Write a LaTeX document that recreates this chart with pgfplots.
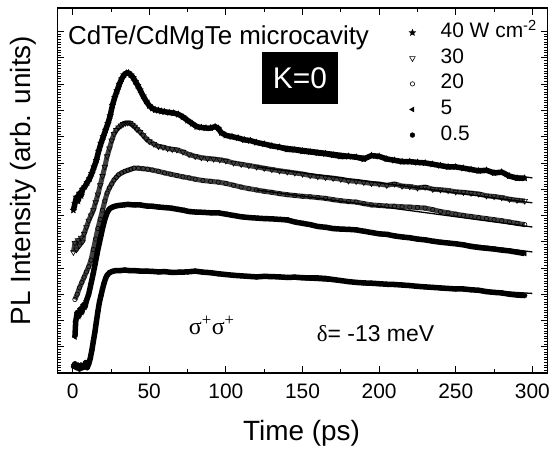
\documentclass[border=0pt]{standalone}
\usepackage{pgfplots}
\pgfplotsset{compat=1.18}
\usepackage{pgfplotstable}
\usepackage{fontspec}
\setmainfont{Liberation Sans}
\newfontfamily\symf{Liberation Serif}

\pgfdeclareplotmark{fstar}{%
 \pgfpathmoveto{\pgfpointpolar{90}{\pgfplotmarksize}}%
 \pgfpathlineto{\pgfpointpolar{126}{0.45\pgfplotmarksize}}%
 \pgfpathlineto{\pgfpointpolar{162}{\pgfplotmarksize}}%
 \pgfpathlineto{\pgfpointpolar{198}{0.45\pgfplotmarksize}}%
 \pgfpathlineto{\pgfpointpolar{234}{\pgfplotmarksize}}%
 \pgfpathlineto{\pgfpointpolar{270}{0.45\pgfplotmarksize}}%
 \pgfpathlineto{\pgfpointpolar{306}{\pgfplotmarksize}}%
 \pgfpathlineto{\pgfpointpolar{342}{0.45\pgfplotmarksize}}%
 \pgfpathlineto{\pgfpointpolar{18}{\pgfplotmarksize}}%
 \pgfpathlineto{\pgfpointpolar{54}{0.45\pgfplotmarksize}}%
 \pgfpathclose
 \pgfusepathqfillstroke}

% 40 W cm^-2
\pgfplotstableread{
x y
0.5 6.2
1.5 6.45
2.5 6.7
3.5 6.55
4.5 6.85
5.5 6.75
6.5 7.0
8 7.1
9.5 7.25
11 7.4
12.5 7.6
14 7.85
15.5 8.1
17 8.45
18.5 8.75
20 9.0
21.5 9.25
23 9.5
24.5 9.8
26 10.2
27.5 10.5
29 10.75
30.5 11.0
32 11.2
33.5 11.35
35 11.42
36.5 11.43
38 11.35
39.5 11.25
41 11.1
42.5 10.95
44 10.78
46 10.55
48 10.35
50 10.18
52 10.08
54 10.02
56 10.0
58 9.97
60 9.95
63 9.92
66 9.9
69 9.85
72 9.75
75 9.62
78 9.5
81 9.38
84 9.35
87 9.33
90 9.33
93 9.38
95 9.32
97 9.15
100 9.05
104 9.0
108 8.95
112 8.88
116 8.85
120 8.78
125 8.72
130 8.65
135 8.6
140 8.52
145 8.5
150 8.45
155 8.42
160 8.38
165 8.35
170 8.3
175 8.25
180 8.25
185 8.22
190 8.15
195 8.28
200 8.25
205 8.15
210 8.1
215 8.05
220 8.05
225 8.02
230 8.0
235 7.95
240 7.9
245 7.85
250 7.85
255 7.8
260 7.75
265 7.7
270 7.72
275 7.62
280 7.65
285 7.5
290 7.42
295 7.42
}\dataA

% 30
\pgfplotstableread{
x y
0.5 4.6
1.5 4.95
2.5 4.7
3.5 5.05
4.5 4.85
5.5 5.15
6.5 5.0
7.5 5.3
9 5.55
10.5 5.8
12 6.0
13.5 6.2
15 6.5
16.5 6.8
18 7.15
19.5 7.5
21 7.85
22.5 8.25
24 8.55
25.5 8.85
27 9.1
28.5 9.25
30 9.35
31.5 9.42
33 9.48
34.5 9.52
36 9.53
37.5 9.52
39 9.45
40.5 9.38
42 9.28
44 9.18
46 9.05
48 8.92
50 8.82
53 8.72
56 8.63
59 8.6
62 8.55
65 8.52
68 8.5
72 8.42
76 8.32
80 8.25
84 8.2
88 8.17
92 8.15
96 8.12
100 8.08
105 8.0
110 7.95
115 7.9
120 7.85
125 7.8
130 7.75
135 7.7
140 7.66
145 7.62
150 7.58
155 7.52
160 7.48
165 7.45
170 7.42
175 7.38
180 7.32
185 7.3
190 7.26
195 7.22
200 7.2
205 7.15
210 7.2
215 7.12
220 7.1
225 7.05
230 7.08
235 7.0
240 6.98
245 6.95
250 6.9
255 6.88
260 6.85
265 6.82
270 6.75
275 6.72
280 6.68
285 6.62
290 6.58
295 6.55
}\dataB

% 20
\pgfplotstableread{
x y
1.5 2.8
3 3.0
4.5 3.25
6 3.45
7.5 3.65
9 3.85
10.5 4.05
12 4.3
13.5 4.7
15 5.1
16.5 5.5
18 5.85
19.5 6.2
21 6.55
22.5 6.85
24 7.05
25.5 7.2
27 7.35
28.5 7.45
30 7.55
32 7.62
34 7.68
36 7.72
38 7.76
40 7.8
43 7.8
46 7.78
49 7.76
52 7.73
56 7.68
60 7.62
64 7.57
68 7.52
72 7.47
76 7.43
80 7.38
85 7.33
90 7.3
95 7.27
100 7.22
105 7.15
110 7.08
115 7.02
120 6.97
125 6.92
130 6.88
135 6.83
140 6.79
145 6.76
150 6.73
155 6.71
160 6.68
165 6.65
170 6.6
175 6.56
180 6.53
185 6.51
190 6.45
195 6.4
200 6.38
205 6.36
210 6.35
215 6.33
220 6.32
225 6.3
230 6.28
235 6.22
240 6.15
245 6.1
250 6.05
255 6.0
260 5.96
265 5.92
270 5.88
275 5.84
280 5.8
285 5.75
290 5.7
295 5.65
}\dataC

% 5
\pgfplotstableread{
x y
1.5 1.37
2 1.95
3 2.3
4 2.15
5 2.45
6 2.3
7 2.6
8 2.5
9 2.75
10.5 3.0
12 3.4
13.5 3.8
15 4.25
16.5 4.7
18 5.1
19.5 5.5
21 5.85
22.5 6.1
24 6.25
26 6.32
28 6.36
30 6.38
33 6.4
36 6.42
40 6.4
44 6.4
48 6.36
52 6.35
56 6.32
60 6.3
64 6.28
68 6.24
72 6.2
76 6.15
80 6.13
85 6.12
90 6.1
95 6.1
100 6.05
105 6.0
110 5.95
115 5.92
120 5.9
125 5.88
130 5.87
135 5.85
140 5.83
145 5.75
150 5.7
155 5.65
160 5.58
165 5.55
170 5.5
175 5.48
180 5.47
185 5.45
190 5.4
195 5.35
200 5.3
205 5.28
210 5.22
215 5.18
220 5.15
225 5.1
230 5.07
235 5.02
240 4.98
245 4.95
250 4.92
255 4.88
260 4.82
265 4.78
270 4.75
275 4.72
280 4.68
285 4.65
290 4.6
295 4.55
}\dataD

% 0.5
\pgfplotstableread{
x y
0.5 0.25
1.5 0.35
2.5 0.2
3.5 0.3
4.5 0.15
5.5 0.3
6.5 0.2
7.5 0.25
8.5 0.4
9.5 0.2
10.5 0.35
11.5 0.55
12.5 0.85
13.5 1.2
14.5 1.55
15.5 1.95
16.5 2.35
17.5 2.7
18.5 2.95
19.5 3.2
20.5 3.42
21.5 3.6
22.5 3.72
24 3.82
26 3.87
28 3.9
31 3.9
34 3.92
37 3.9
40 3.9
44 3.88
48 3.88
52 3.87
56 3.85
60 3.86
65 3.83
70 3.84
75 3.85
80 3.88
85 3.84
90 3.82
95 3.78
100 3.75
105 3.72
110 3.7
115 3.68
120 3.66
125 3.68
130 3.67
135 3.66
140 3.64
145 3.65
150 3.63
155 3.62
160 3.62
165 3.6
170 3.56
175 3.52
180 3.48
185 3.45
190 3.43
195 3.42
200 3.4
205 3.38
210 3.37
215 3.35
220 3.33
225 3.3
230 3.28
235 3.26
240 3.24
245 3.22
250 3.2
255 3.2
260 3.17
265 3.15
270 3.1
275 3.07
280 3.05
285 3.0
290 2.97
295 2.95
}\dataE

\begin{document}
\begin{tikzpicture}
\begin{axis}[
  scale only axis,
  width=490.4bp, height=365bp,
  xmin=-10, xmax=310, ymin=0, ymax=13.9,
  xtick={0,50,...,300},
  minor x tick num=1,
  ytick={0,1,...,13},
  minor y tick num=9,
  yticklabels={},
  xtick pos=both, ytick pos=both,
  tick align=inside,
  major tick length=7bp, minor tick length=4bp,
  tick style={black, line width=0.8bp},
  axis line style={line width=1.1bp},
  /pgf/number format/assume math mode=true,
  ticklabel style={font=\fontsize{21}{24}\selectfont},
  xticklabel style={anchor=base, yshift=-25bp},
  xlabel={Time (ps)},
  ylabel={PL Intensity (arb. units)},
  label style={font=\fontsize{28}{32}\selectfont},
  xlabel style={at={(axis description cs:0.498,-0.1836)}, anchor=base},
  ylabel style={at={(axis description cs:-0.069,0.527)}, anchor=center},
  legend style={at={(axis cs:219.5,13.31)}, anchor=north west, draw=none, fill=none,
    font=\fontsize{21}{24}\selectfont, row sep=7.6bp, inner sep=0pt,
    nodes={inner sep=0pt, text height=14bp, text depth=4bp},
    /tikz/every odd column/.append style={column sep=25bp}},
  legend cell align=left,
  legend image code/.code={\draw[#1] plot coordinates {(0.1cm,0cm)};},
]
% thick data bands
\addplot[black, line width=5.5bp, line join=round, forget plot] table {\dataA};
\addplot[black!75, line width=5bp, line join=round, forget plot] table {\dataB};
\addplot[black!75, line width=5bp, line join=round, forget plot] table {\dataC};
\addplot[black, line width=5.5bp, line join=round, forget plot] table {\dataD};
\addplot[black, line width=5.5bp, line join=round, forget plot] table {\dataE};
% fits
\addplot[black, line width=1.3bp, forget plot] coordinates {(120,8.78) (300,7.43)};
\addplot[black, line width=1.3bp, forget plot] coordinates {(120,7.85) (300,6.48)};
\addplot[black, line width=1.3bp, forget plot] coordinates {(120,6.97) (300,5.56)};
\addplot[black, line width=1.3bp, forget plot] coordinates {(120,5.90) (300,4.61)};
\addplot[black, line width=1.3bp, forget plot] coordinates {(120,3.66) (300,3.03)};
% markers
\addplot[only marks, mark=fstar, mark size=3.4bp, black] table {\dataA};
\addlegendentry{40 W cm\textsuperscript{-2}}
\addplot[only marks, mark=triangle, mark size=3.2bp, mark options={rotate=180, fill=white, line width=0.6bp}, black] table {\dataB};
\addlegendentry{30}
\addplot[only marks, mark=o, mark size=2.2bp, mark options={fill=white, line width=0.6bp}, black] table {\dataC};
\addlegendentry{20}
\addplot[only marks, mark=triangle*, mark size=2.8bp, mark options={rotate=90}, black] table {\dataD};
\addlegendentry{5}
\addplot[only marks, mark=*, mark size=2.4bp, black] table {\dataE};
\addlegendentry{0.5}
% annotations
\node[anchor=base west, inner sep=0pt, font=\fontsize{26}{30}\selectfont] at (axis cs:-3.07,12.5) {CdTe/CdMgTe microcavity};
\node[fill=black, text=white, minimum width=76bp, minimum height=52bp, inner sep=0pt, font=\fontsize{30}{34}\selectfont] at (axis cs:148.3,11.24) {K=0};
\node[font=\fontsize{24}{28}\selectfont] at (axis cs:90.8,1.83) {\symf σ\textsuperscript{+}σ\textsuperscript{+}};
\node[anchor=base west, inner sep=0pt, font=\fontsize{23}{26}\selectfont] at (axis cs:159.3,1.2) {{\symf δ}= -13 meV};
\end{axis}
\pgfresetboundingbox
\path[use as bounding box] (current axis.south west) ++(-57.3bp,-77bp) rectangle ++(551bp,450bp);
\end{tikzpicture}
\end{document}
